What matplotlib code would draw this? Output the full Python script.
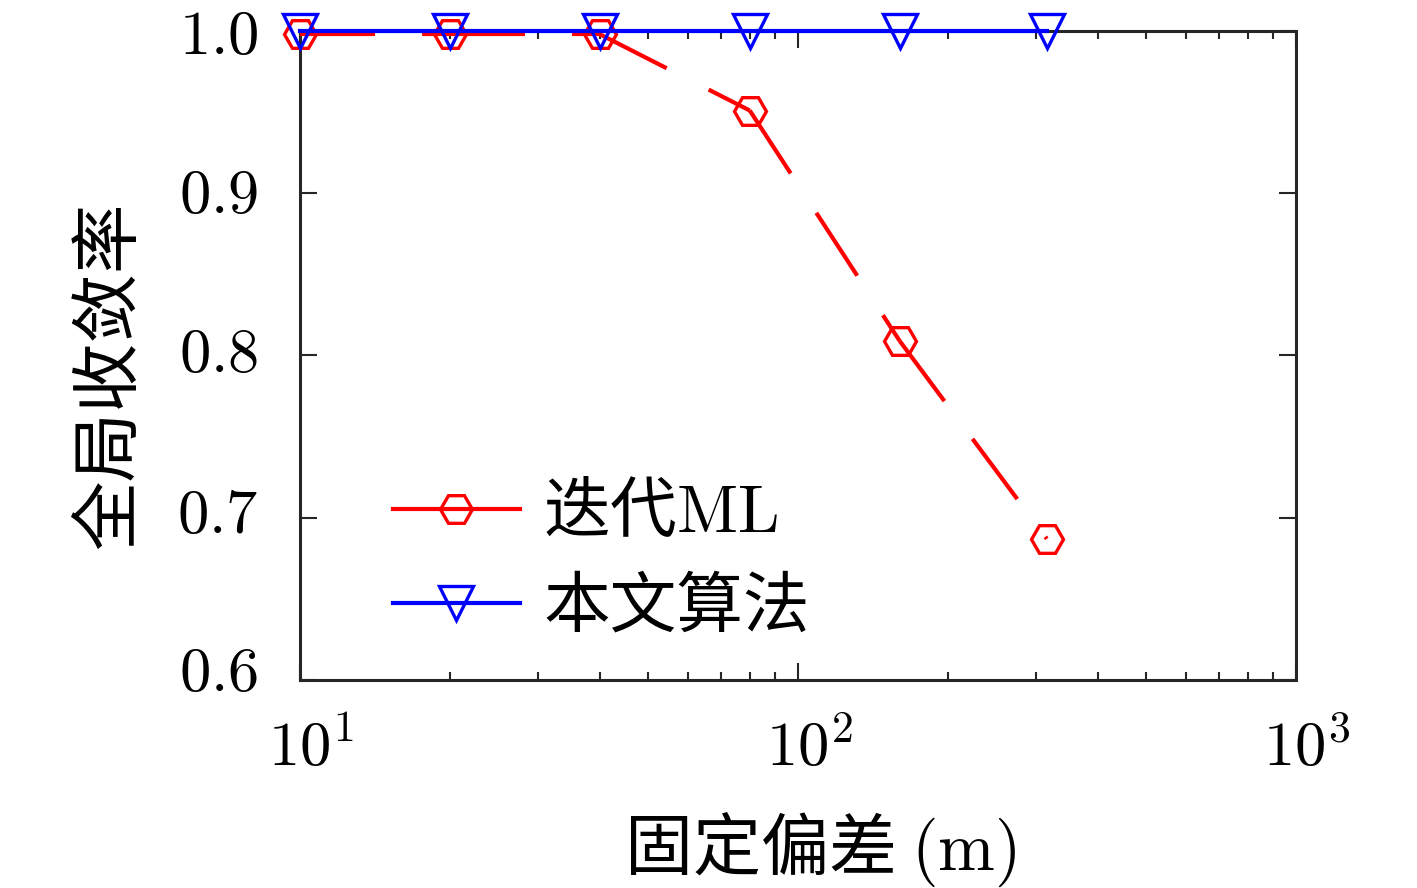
import math
import matplotlib
matplotlib.use("Agg")
import matplotlib.pyplot as plt
from matplotlib.lines import Line2D
from matplotlib.transforms import ScaledTranslation
from matplotlib.ticker import FixedLocator, FuncFormatter, LogLocator, NullFormatter

plt.rcParams['mathtext.fontset'] = 'cm'
plt.rcParams['font.family'] = ['Noto Sans CJK SC', 'DejaVu Sans']
plt.rcParams['axes.unicode_minus'] = False

bias = [10, 20, 40, 80, 160, 316]
ml_rate = [0.998, 0.998, 0.998, 0.951, 0.809, 0.687]
ours_rate = [1.0, 1.0, 1.0, 1.0, 1.0, 1.0]
series_labels = ['迭代$\\mathrm{ML}$', '本文算法']
xlabel = '固定偏差 $(\\mathrm{m})$'
ylabel = '全局收敛率'
yticks = [0.6, 0.7, 0.8, 0.9, 1.0]
xticks = [10, 100, 1000]

fig = plt.figure(figsize=(14.17, 8.88), dpi=100)
ax = fig.add_axes([300/1417, 1-680/888, (1296-300)/1417, (680-31)/888])

lw = 3.0
red_style = dict(color='red', lw=lw, marker='H', ms=23, mfc='none', mec='red', mew=2.4)
blue_style = dict(color='blue', lw=lw, marker='v', ms=24, mfc='none', mec='blue', mew=2.4)

# dashed red line: dash pattern restarts at each vertex
for i in range(len(bias) - 1):
    ax.plot(bias[i:i + 2], ml_rate[i:i + 2], color='red', lw=lw, ls=(0, (18, 11.3)),
            clip_on=False, zorder=3, solid_capstyle='butt', dash_capstyle='butt')
ax.plot(bias, ml_rate, ls='none', clip_on=False, zorder=3,
        **{k: v for k, v in red_style.items() if k != 'lw'})
ax.plot(bias, ours_rate, ls='-', clip_on=False, zorder=4, **blue_style)

ax.set_xscale('log')
ax.set_xlim(10, 1000)
ax.set_ylim(0.6, 1.0)
ax.yaxis.set_major_locator(FixedLocator(yticks))
ax.yaxis.set_major_formatter(FuncFormatter(lambda v, p: '$%.1f$' % v))
ax.xaxis.set_major_locator(FixedLocator(xticks))
ax.xaxis.set_major_formatter(FuncFormatter(lambda v, p: '$10^{%d}$' % round(math.log10(v))))
ax.xaxis.set_minor_locator(LogLocator(base=10, subs=range(2, 10)))
ax.xaxis.set_minor_formatter(NullFormatter())

ax.tick_params(which='both', direction='in', top=True, right=True, labelsize=45, width=1.5, color='#262626')
ax.tick_params(which='major', length=12)
ax.tick_params(which='minor', length=6)
ax.tick_params(axis='y', which='major', pad=30)
ax.tick_params(axis='x', which='major', pad=26)
for s in ax.spines.values():
    s.set_linewidth(2.2)
    s.set_color('#262626')

ax.set_xlabel(xlabel, fontsize=49, labelpad=22)
ax.set_ylabel(ylabel, fontsize=50, labelpad=23)
ax.xaxis.label.set_x(0.522)
ax.yaxis.label.set_y(0.47)

handles = [Line2D([], [], ls='-', **red_style), Line2D([], [], ls='-', **blue_style)]
ax.legend(handles, series_labels, loc='center left', bbox_to_anchor=(0.0934, 0.184),
          frameon=False, fontsize=48, borderpad=0, borderaxespad=0,
          handlelength=1.9, handletextpad=0.35, labelspacing=0.4)

fig.canvas.draw()
# MATLAB-style label placement: mantissa centred on the tick, y labels slightly raised
for t in ax.xaxis.get_major_ticks():
    t.label1.set_transform(t.label1.get_transform() + ScaledTranslation(0.11, 0, fig.dpi_scale_trans))
y_shift_px = [14, 10, 8, 5, 2]
for t, dy in zip(ax.yaxis.get_major_ticks(), y_shift_px):
    t.label1.set_transform(t.label1.get_transform() + ScaledTranslation(0, dy / 100, fig.dpi_scale_trans))

fig.savefig('out.png', dpi=100, facecolor='white')
